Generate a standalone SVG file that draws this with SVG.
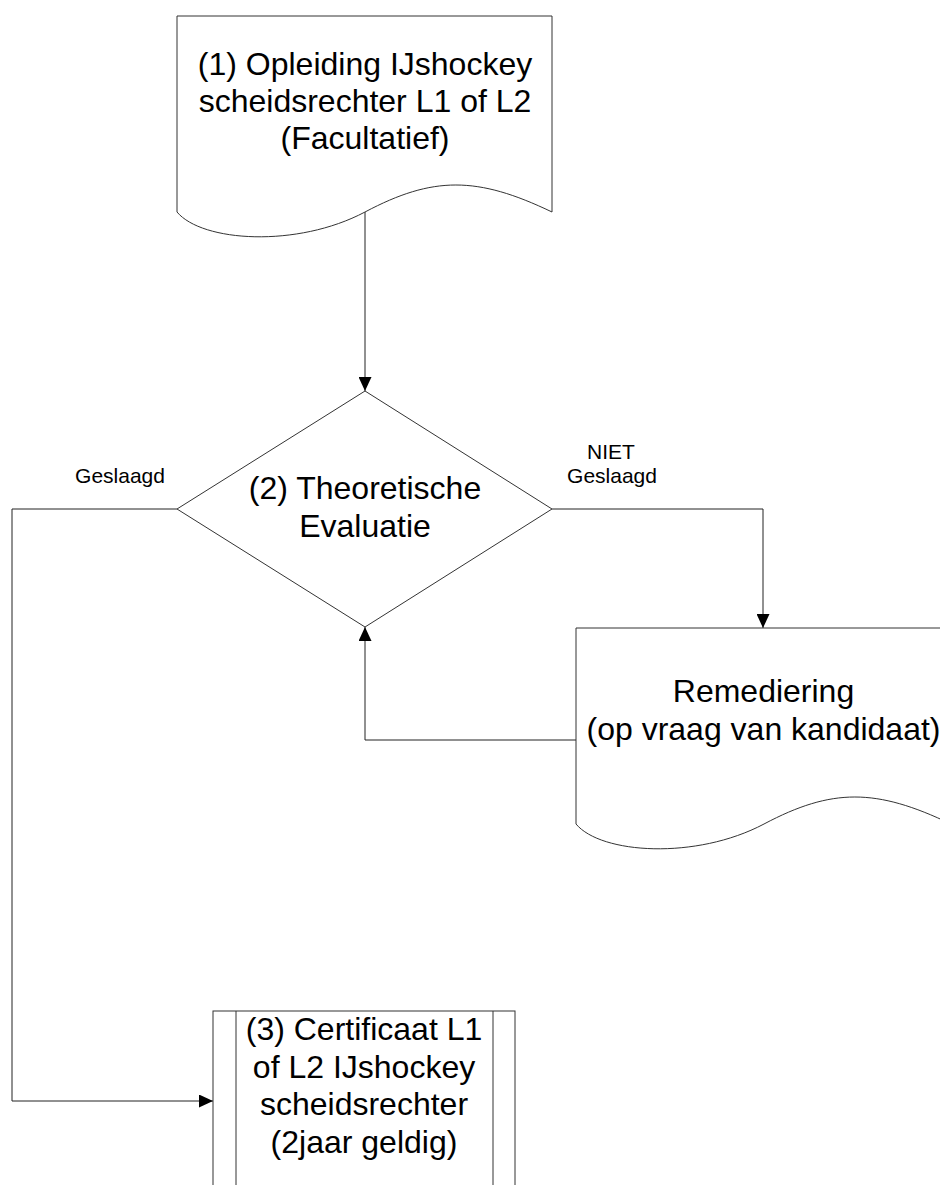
<svg xmlns="http://www.w3.org/2000/svg" width="940" height="1185" viewBox="0 0 940 1185">
<style>
.shape{fill:#fff;stroke:#333;stroke-width:1}
.conn{fill:none;stroke:#222;stroke-width:1}
.t{font-family:"Liberation Sans",Arial,sans-serif;font-size:32px;fill:#000;text-anchor:middle}
.s{font-family:"Liberation Sans",Arial,sans-serif;font-size:21px;fill:#000;text-anchor:middle}
</style>
<defs>
<marker id="arr" markerWidth="14" markerHeight="13" refX="14" refY="6.5" orient="auto" markerUnits="userSpaceOnUse">
<path d="M0,0 L14,6.5 L0,13 Z" fill="#000"/>
</marker>
</defs>
<rect width="940" height="1185" fill="#fff"/>
<g id="connectors">
<path class="conn" d="M365,212 V391" marker-end="url(#arr)"/>
<path class="conn" d="M552,509 H763 V628" marker-end="url(#arr)"/>
<path class="conn" d="M576,740 H365 V627" marker-end="url(#arr)"/>
<path class="conn" d="M177,509 H12 V1101 H213" marker-end="url(#arr)"/>
<text class="s" x="120" y="483">Geslaagd</text>
<text class="s" x="611" y="459">NIET</text>
<text class="s" x="612" y="483">Geslaagd</text>
</g>
<g id="node1">
<path class="shape" d="M177,16 H552 V212 C477,176 433,176 365,212 C297,248 202,242 177,212 Z"/>
<text class="t" x="365" y="75">(1) Opleiding IJshockey</text>
<text class="t" x="365" y="112">scheidsrechter L1 of L2</text>
<text class="t" x="365" y="149">(Facultatief)</text>
</g>
<g id="node2">
<path class="shape" d="M365,391 L552,509 L365,627 L177,509 Z"/>
<text class="t" x="365" y="499">(2) Theoretische</text>
<text class="t" x="365" y="537">Evaluatie</text>
</g>
<g id="remediering">
<path class="shape" d="M576,628 H951 V824 C876,788 832,788 764,824 C696,860 601,854 576,824 Z"/>
<text class="t" x="763.5" y="702">Remediering</text>
<text class="t" x="763.5" y="740">(op vraag van kandidaat)</text>
</g>
<g id="node3">
<rect class="shape" x="213" y="1011" width="302" height="200"/>
<line class="shape" x1="236" y1="1011" x2="236" y2="1211"/>
<line class="shape" x1="493" y1="1011" x2="493" y2="1211"/>
<text class="t" x="364" y="1040">(3) Certificaat L1</text>
<text class="t" x="364" y="1077.5">of L2 IJshockey</text>
<text class="t" x="364" y="1115">scheidsrechter</text>
<text class="t" x="364" y="1152.5">(2jaar geldig)</text>
</g>
</svg>
